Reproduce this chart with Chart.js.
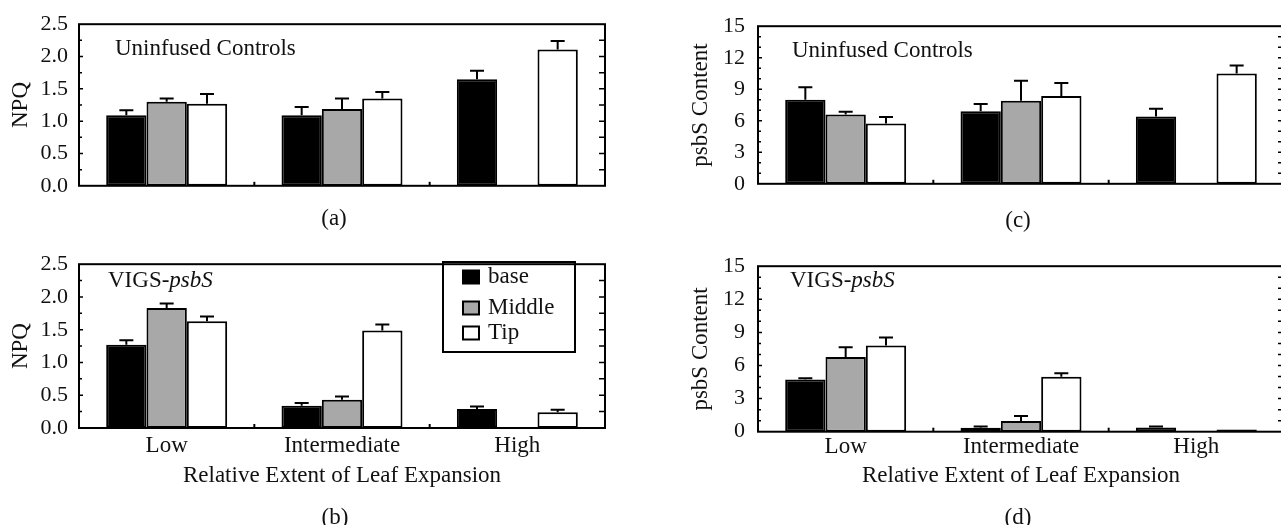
<!DOCTYPE html>
<html>
<head>
<meta charset="utf-8">
<script src="https://cdn.jsdelivr.net/npm/chart.js@4/dist/chart.umd.min.js"></script>
<style>
  html, body { margin: 0; padding: 0; background: #fff; overflow: hidden; }
  body { width: 1281px; height: 525px; position: relative; }
  canvas { position: absolute; }
  .cap { position: absolute; font: 23px 'Liberation Serif', serif; color: #111; transform: translate(-50%, -50%); }
</style>
</head>
<body>
<canvas id="chart_a" width="640" height="210" style="left:0;top:0"></canvas>
<canvas id="chart_b" width="640" height="260" style="left:0;top:240px"></canvas>
<canvas id="chart_c" width="700" height="210" style="left:680px;top:0"></canvas>
<canvas id="chart_d" width="700" height="260" style="left:680px;top:240px"></canvas>
<div class="cap" style="left:334px;top:218px">(a)</div>
<div class="cap" style="left:335px;top:517px">(b)</div>
<div class="cap" style="left:1018px;top:220px">(c)</div>
<div class="cap" style="left:1018px;top:517px">(d)</div>
<script>
const categories = ["Low", "Intermediate", "High"];
const series_names = ["base", "Middle", "Tip"];

// NPQ, uninfused controls (a)
const npq_ctrl_base = [1.09, 1.09, 1.65];
const npq_ctrl_middle = [1.30, 1.19, null];
const npq_ctrl_tip = [1.27, 1.35, 2.11];
const npq_ctrl_base_err = [0.08, 0.13, 0.13];
const npq_ctrl_middle_err = [0.05, 0.16, null];
const npq_ctrl_tip_err = [0.15, 0.10, 0.13];

// NPQ, VIGS-psbS (b)
const npq_vigs_base = [1.27, 0.34, 0.29];
const npq_vigs_middle = [1.83, 0.43, null];
const npq_vigs_tip = [1.63, 1.49, 0.24];
const npq_vigs_base_err = [0.07, 0.04, 0.04];
const npq_vigs_middle_err = [0.07, 0.05, null];
const npq_vigs_tip_err = [0.07, 0.09, 0.04];

// psbS content, uninfused controls (c)
const psbs_ctrl_base = [8.0, 6.9, 6.4];
const psbs_ctrl_middle = [6.6, 7.9, null];
const psbs_ctrl_tip = [5.75, 8.35, 10.5];
const psbs_ctrl_base_err = [1.2, 0.7, 0.75];
const psbs_ctrl_middle_err = [0.25, 1.9, null];
const psbs_ctrl_tip_err = [0.6, 1.25, 0.75];

// psbS content, VIGS-psbS (d)
const psbs_vigs_base = [4.72, 0.35, 0.38];
const psbs_vigs_middle = [6.78, 0.98, null];
const psbs_vigs_tip = [7.82, 4.98, 0.2];
const psbs_vigs_base_err = [0.12, 0.12, 0.1];
const psbs_vigs_middle_err = [0.87, 0.44, null];
const psbs_vigs_tip_err = [0.72, 0.32, 0];

const npq_ticks = {max: 2.5, step: 0.5, minor: 0.25, decimals: 1};
const psbs_ticks = {max: 15, step: 3, minor: 1, decimals: 0};

const bar_colors = ["#000000", "#a8a8a8", "#ffffff"];
const text_color = "#111";
const serif = "'Liberation Serif', 'DejaVu Serif', serif";
const font = {family: serif, size: 23, lineHeight: 1.2};
const num_font = {family: serif, size: 22, lineHeight: 1.2};

// frame, inward ticks, error bars, panel note and legend
const frame_plugin = {
    id: 'frame',
    afterDatasetsDraw(chart, args, opts) {
        const ctx = chart.ctx;
        const a = chart.chartArea;
        const x = chart.scales.x;
        const y = chart.scales.y;
        ctx.save();
        ctx.strokeStyle = "#000";
        ctx.lineWidth = 2;

        // error bars (upper only)
        chart.data.datasets.forEach((ds, i) => {
            const meta = chart.getDatasetMeta(i);
            meta.data.forEach((bar, j) => {
                const v = ds.data[j];
                const e = ds.errors[j];
                if (v == null || !e) return;
                const y0 = y.getPixelForValue(v);
                const y1 = y.getPixelForValue(v + e);
                ctx.beginPath();
                ctx.moveTo(bar.x, y0);
                ctx.lineTo(bar.x, y1);
                ctx.moveTo(bar.x - 7, y1);
                ctx.lineTo(bar.x + 7, y1);
                ctx.stroke();
            });
        });

        // frame
        ctx.strokeRect(a.left, a.top, a.right - a.left, a.bottom - a.top);

        // y ticks on both sides
        const t = opts.ticks;
        const n = Math.round(t.max / t.minor);
        for (let k = 1; k < n; k++) {
            const v = k * t.minor;
            const py = y.getPixelForValue(v);
            const major = Math.abs(v / t.step - Math.round(v / t.step)) < 1e-6;
            ctx.lineWidth = 1.5;
            ctx.beginPath();
            ctx.moveTo(a.left, py);
            ctx.lineTo(a.left + (major ? 4 : 3), py);
            ctx.moveTo(a.right, py);
            ctx.lineTo(a.right - 6, py);
            ctx.stroke();
        }

        // x ticks at category boundaries
        ctx.lineWidth = 2;
        for (let k = 1; k < categories.length; k++) {
            const px = (x.getPixelForValue(k - 1) + x.getPixelForValue(k)) / 2;
            ctx.beginPath();
            ctx.moveTo(px, a.bottom);
            ctx.lineTo(px, a.bottom - 4);
            ctx.stroke();
        }

        // panel note
        ctx.fillStyle = text_color;
        ctx.textBaseline = "middle";
        ctx.textAlign = "left";
        let nx = a.left + opts.note.dx;
        const ny = a.top + opts.note.dy;
        ctx.font = "23px " + serif;
        ctx.fillText(opts.note.text, nx, ny);
        if (opts.note.italic) {
            nx += ctx.measureText(opts.note.text).width;
            ctx.font = "italic 23px " + serif;
            ctx.fillText(opts.note.italic, nx, ny);
        }

        // legend box
        if (opts.legend) {
            const L = opts.legend;
            ctx.lineWidth = 2;
            ctx.strokeRect(L.x, L.y, L.w, L.h);
            ctx.font = "23px " + serif;
            chart.data.datasets.forEach((ds, i) => {
                const cy = L.y + L.rows[i];
                ctx.fillStyle = ds.backgroundColor;
                ctx.fillRect(L.x + 20, cy - 6.5, 16, 13);
                ctx.strokeRect(L.x + 20, cy - 6.5, 16, 13);
                ctx.fillStyle = text_color;
                ctx.fillText(ds.label, L.x + 45, cy);
            });
        }
        ctx.restore();
    }
};

function make_datasets(values, errors) {
    return values.map((vals, i) => ({
        label: series_names[i],
        data: vals,
        errors: errors[i],
        backgroundColor: bar_colors[i],
        borderColor: "#000",
        borderWidth: 2,
        borderSkipped: false,
        categoryPercentage: 0.69,
        barPercentage: 1.0
    }));
}

function draw_panel(canvas_id, cfg) {
    const ctx = document.getElementById(canvas_id).getContext('2d');
    return new Chart(ctx, {
        type: 'bar',
        data: {labels: categories, datasets: make_datasets(cfg.values, cfg.errors)},
        plugins: [frame_plugin],
        options: {
            responsive: false,
            animation: false,
            events: [],
            layout: {padding: {left: 0, top: cfg.top, right: cfg.right, bottom: 0}},
            plugins: {
                legend: {display: false},
                tooltip: {enabled: false},
                frame: {ticks: cfg.ticks, note: cfg.note, legend: cfg.legend}
            },
            scales: {
                x: {
                    afterFit: (s) => { s.height = cfg.x_height; },
                    grid: {display: false, drawTicks: false},
                    border: {display: false},
                    ticks: {display: cfg.x_labels, padding: cfg.x_pad, color: text_color, font: font, maxRotation: 0, autoSkip: false},
                    title: {display: cfg.x_labels, text: "Relative Extent of Leaf Expansion", color: text_color, font: font, padding: {top: 0, bottom: 10}}
                },
                y: {
                    min: 0,
                    max: cfg.ticks.max,
                    afterFit: (s) => { s.width = cfg.y_width; },
                    grid: {display: false, drawTicks: false},
                    border: {display: false},
                    ticks: {stepSize: cfg.ticks.step, padding: cfg.y_pad, color: text_color, font: num_font,
                            callback: (v) => v.toFixed(cfg.ticks.decimals)},
                    title: {display: true, text: cfg.y_title, color: text_color, font: font, padding: {top: 7, bottom: 0}}
                }
            }
        }
    });
}

draw_panel("chart_a", {
    values: [npq_ctrl_base, npq_ctrl_middle, npq_ctrl_tip],
    errors: [npq_ctrl_base_err, npq_ctrl_middle_err, npq_ctrl_tip_err],
    ticks: npq_ticks, y_title: "NPQ", y_width: 79, y_pad: 11,
    top: 20, right: 35, x_height: 19, x_labels: false, x_pad: 0,
    note: {text: "Uninfused Controls", dx: 36, dy: 25}
});

draw_panel("chart_b", {
    values: [npq_vigs_base, npq_vigs_middle, npq_vigs_tip],
    errors: [npq_vigs_base_err, npq_vigs_middle_err, npq_vigs_tip_err],
    ticks: npq_ticks, y_title: "NPQ", y_width: 79, y_pad: 11,
    top: 15, right: 35, x_height: 72, x_labels: true, x_pad: 4,
    note: {text: "VIGS-", italic: "psbS", dx: 29, dy: 17},
    legend: {x: 443, y: 22, w: 132, h: 90, rows: [15, 46, 71]}
});

draw_panel("chart_c", {
    values: [psbs_ctrl_base, psbs_ctrl_middle, psbs_ctrl_tip],
    errors: [psbs_ctrl_base_err, psbs_ctrl_middle_err, psbs_ctrl_tip_err],
    ticks: psbs_ticks, y_title: "psbS Content", y_width: 78, y_pad: 13,
    top: 19.5, right: 96, x_height: 19.3, x_labels: false, x_pad: 0,
    note: {text: "Uninfused Controls", dx: 34, dy: 25}
});

draw_panel("chart_d", {
    values: [psbs_vigs_base, psbs_vigs_middle, psbs_vigs_tip],
    errors: [psbs_vigs_base_err, psbs_vigs_middle_err, psbs_vigs_tip_err],
    ticks: psbs_ticks, y_title: "psbS Content", y_width: 78, y_pad: 13,
    top: 18.3, right: 96, x_height: 68.3, x_labels: true, x_pad: 1,
    note: {text: "VIGS-", italic: "psbS", dx: 32, dy: 15}
});
</script>
</body>
</html>
